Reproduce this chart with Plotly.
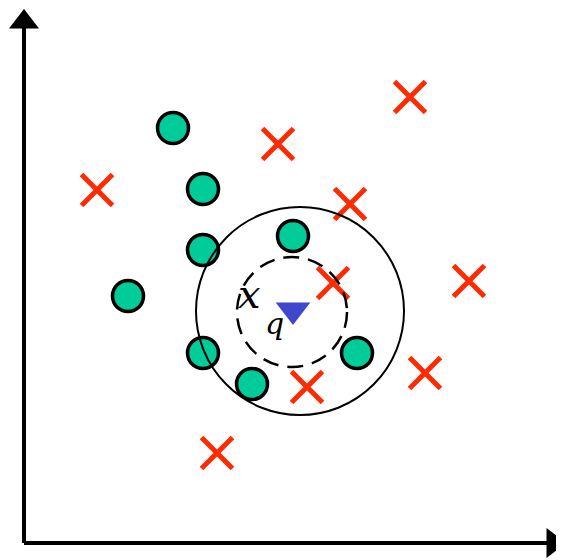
import plotly.graph_objects as go

# class A (green circles), coordinates measured from the axis origin
circle_x = [149, 179, 179, 104, 269, 179, 228, 333]
circle_y = [415, 354, 293, 247, 307, 190, 159, 190]

# class B (red crosses)
cross_x = [386, 254, 73, 326, 309, 445, 401, 283, 193]
cross_y = [446, 399, 353, 339, 260, 262, 170, 156, 90]

# query point x_q
query_x = [269]
query_y = [233]

# neighbourhood radii around the query
outer_center = (276, 232)
outer_r = 104
inner_center = (268, 231)
inner_r = 55

x_end = 540
y_end = 536

fig = go.Figure()

# axes
fig.add_shape(type="line", x0=0, y0=0, x1=x_end - 12, y1=0,
              line=dict(color="black", width=4))
fig.add_shape(type="line", x0=0, y0=0, x1=0, y1=y_end - 12,
              line=dict(color="black", width=4))

# neighbourhood circles
fig.add_shape(type="circle",
              x0=outer_center[0] - outer_r, x1=outer_center[0] + outer_r,
              y0=outer_center[1] - outer_r, y1=outer_center[1] + outer_r,
              line=dict(color="black", width=2))
fig.add_shape(type="circle",
              x0=inner_center[0] - inner_r, x1=inner_center[0] + inner_r,
              y0=inner_center[1] - inner_r, y1=inner_center[1] + inner_r,
              line=dict(color="black", width=2.5, dash="16px,9px"))

# arrow heads
fig.add_trace(go.Scatter(
    x=[0], y=[y_end - 15], mode="markers", cliponaxis=False,
    marker=dict(symbol="triangle-up", size=26, color="black"),
    hoverinfo="skip"))
fig.add_trace(go.Scatter(
    x=[x_end - 11], y=[0], mode="markers", cliponaxis=False,
    marker=dict(symbol="triangle-right", size=26, color="black"),
    hoverinfo="skip"))

fig.add_trace(go.Scatter(
    x=cross_x, y=cross_y, mode="markers", name="class B", cliponaxis=False,
    marker=dict(symbol="x-thin", size=31,
                line=dict(color="#FF2A00", width=5))))

fig.add_trace(go.Scatter(
    x=circle_x, y=circle_y, mode="markers", name="class A", cliponaxis=False,
    marker=dict(symbol="circle", size=31, color="#00CC99",
                line=dict(color="black", width=3.5))))

fig.add_trace(go.Scatter(
    x=query_x, y=query_y, mode="markers", name="query", cliponaxis=False,
    marker=dict(symbol="triangle-down", size=30, color="#3F48CC")))

# label x_q
fig.add_annotation(x=225, y=249, text="<i>x</i>", showarrow=False,
                   font=dict(family="DejaVu Serif", size=40, color="black"))
fig.add_annotation(x=250, y=220, text="<i>q</i>", showarrow=False,
                   font=dict(family="DejaVu Serif", size=30, color="black"))

# the page body adds an 8px offset, so the plot area starts at (8, 8)
fig.update_layout(
    width=556, height=552,
    margin=dict(l=0, r=0, t=0, b=0),
    showlegend=False,
    paper_bgcolor="white",
    plot_bgcolor="white",
    xaxis=dict(range=[-16, 540], visible=False, fixedrange=True),
    yaxis=dict(range=[-17, 535], visible=False, fixedrange=True),
)

fig.write_html("out.html")
